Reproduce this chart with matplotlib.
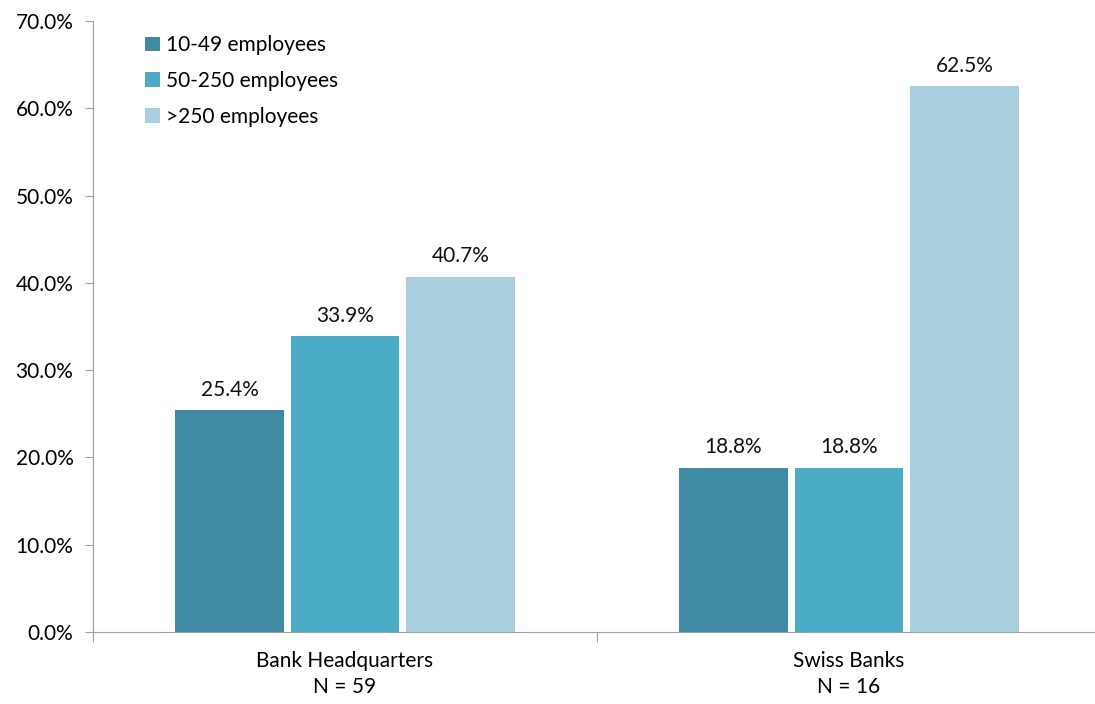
import matplotlib
matplotlib.use("Agg")
from matplotlib import pyplot as plt
from matplotlib.ticker import FixedLocator, PercentFormatter

plt.rcParams['font.family'] = ['Lato', 'DejaVu Sans']

categories = ["Bank Headquarters\nN = 59", "Swiss Banks\nN = 16"]
series_names = ["10-49 employees", "50-250 employees", ">250 employees"]
values = [
    [25.4, 18.8],
    [33.9, 18.8],
    [40.7, 62.5],
]
colors = ["#3E8BA3", "#4BACC6", "#AACFDE"]

fig = plt.figure(figsize=(10.95, 7.04), dpi=100)
ax = fig.add_axes([0.0849, 0.1023, 0.9205, 0.8679])

bar_w = 0.215
step = 0.229
for i, (name, vals) in enumerate(zip(series_names, values)):
    xs = [c + (i - 1) * step for c in range(len(categories))]
    bars = ax.bar(xs, vals, width=bar_w, color=colors[i], label=name)
    for b, v in zip(bars, vals):
        ax.text(b.get_x() + b.get_width() / 2, v + 1.2, f"{v:.1f}%",
                ha='center', va='bottom', fontsize=15, color='#111111')

ax.set_xlim(-0.5, len(categories) - 0.5)
ax.set_ylim(0, 70)
ax.set_yticks(range(0, 71, 10))
ax.yaxis.set_major_formatter(PercentFormatter(decimals=1))

# boundary ticks as major, category labels on minor
ax.xaxis.set_major_locator(FixedLocator([-0.5, 0.5, 1.5]))
ax.set_xticklabels([])
ax.xaxis.set_minor_locator(FixedLocator(range(len(categories))))
ax.set_xticklabels(categories, minor=True, linespacing=1.35)
ax.tick_params(axis='x', which='minor', length=0, labelsize=15, pad=14)
ax.tick_params(axis='x', which='major', length=7, color='#A0A0A0')
ax.tick_params(axis='y', length=6, color='#A0A0A0', labelsize=15, pad=8)

for s in ['top', 'right']:
    ax.spines[s].set_visible(False)
for s in ['left', 'bottom']:
    ax.spines[s].set_color('#A0A0A0')

ax.legend(loc='upper left', bbox_to_anchor=(0.033, 1.007), frameon=False,
          fontsize=15, handlelength=0.7, handleheight=0.7,
          handletextpad=0.3, labelspacing=0.75)

fig.savefig("out.png", dpi=100)
